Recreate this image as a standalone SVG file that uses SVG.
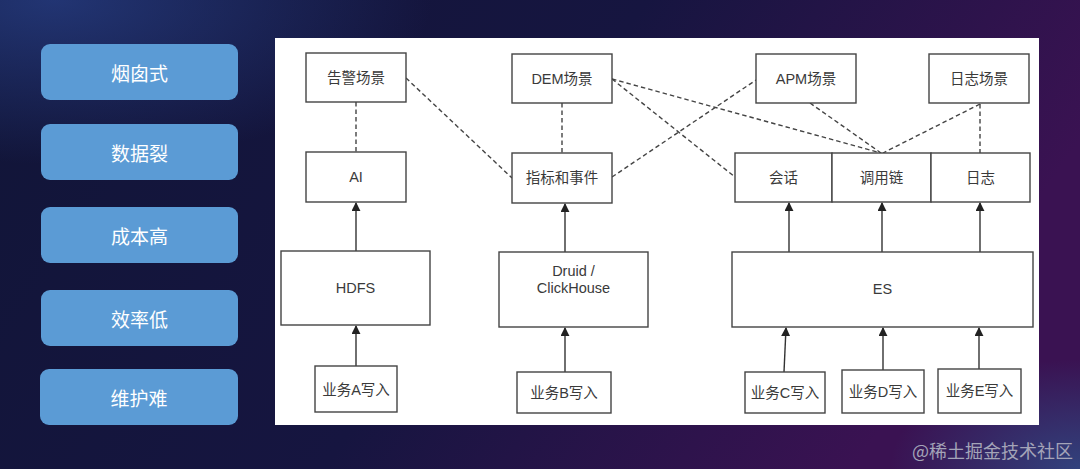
<svg xmlns="http://www.w3.org/2000/svg" width="1080" height="469" viewBox="0 0 1080 469">
<defs>
<linearGradient id="bg" x1="0" y1="0" x2="1" y2="0.3">
<stop offset="0" stop-color="#111538"/>
<stop offset="0.55" stop-color="#161540"/>
<stop offset="1" stop-color="#3a1252"/>
</linearGradient>
<radialGradient id="glow" cx="1" cy="1" r="0.5">
<stop offset="0" stop-color="#2a6aa0" stop-opacity="0.55"/>
<stop offset="1" stop-color="#2a6aa0" stop-opacity="0"/>
</radialGradient>
<radialGradient id="glowtl" cx="0.05" cy="0" r="0.35">
<stop offset="0" stop-color="#2d4a9a" stop-opacity="0.6"/>
<stop offset="1" stop-color="#2d4a9a" stop-opacity="0"/>
</radialGradient>
<marker id="arr" viewBox="0 0 10 10" refX="9" refY="5" markerWidth="9" markerHeight="9" markerUnits="userSpaceOnUse" orient="auto">
<path d="M0,0 L10,5 L0,10 z" fill="#222"/>
</marker>
<style>
.btn{fill:#5b9bd5}
.btxt{font-family:"Noto Sans CJK SC","Noto Sans",sans-serif;font-size:19px;fill:#ffffff;text-anchor:middle;dominant-baseline:central}
.box{fill:#ffffff;stroke:#444;stroke-width:1.4}
.t{font-family:"Liberation Sans","Noto Sans CJK SC",sans-serif;font-size:14.5px;fill:#3a3a3a;text-anchor:middle;dominant-baseline:central}
.dash{stroke:#444;stroke-width:1.4;stroke-dasharray:4.5 3;fill:none}
.solid{stroke:#333;stroke-width:1.4;fill:none;marker-end:url(#arr)}
.wm{font-family:"Noto Sans CJK SC",sans-serif;font-size:18px;fill:#a4a4b8}
</style>
</defs>
<rect width="1080" height="469" fill="url(#bg)"/>
<rect width="1080" height="469" fill="url(#glowtl)"/>
<rect x="700" y="250" width="380" height="219" fill="url(#glow)"/>

<g id="buttons">
<g id="b1"><rect class="btn" x="41" y="44" width="197" height="56" rx="9"/><text class="btxt" x="139.5" y="72">烟囱式</text></g>
<g id="b2"><rect class="btn" x="41" y="124" width="197" height="56" rx="9"/><text class="btxt" x="139.5" y="152">数据裂</text></g>
<g id="b3"><rect class="btn" x="41" y="207" width="197" height="56" rx="9"/><text class="btxt" x="139.5" y="235">成本高</text></g>
<g id="b4"><rect class="btn" x="41" y="290" width="197" height="56" rx="9"/><text class="btxt" x="139.5" y="318">效率低</text></g>
<g id="b5"><rect class="btn" x="40" y="369" width="198" height="56" rx="9"/><text class="btxt" x="139" y="397">维护难</text></g>
</g>

<rect id="panel" x="275" y="38" width="764" height="387" fill="#ffffff"/>

<g id="connectors">
<line class="dash" x1="356" y1="102" x2="356" y2="152"/>
<line class="dash" x1="406" y1="78" x2="512" y2="178"/>
<line class="dash" x1="562" y1="103" x2="562" y2="153"/>
<line class="dash" x1="612" y1="79" x2="735" y2="177"/>
<line class="dash" x1="612" y1="79" x2="881" y2="153"/>
<line class="dash" x1="612" y1="177" x2="756" y2="80"/>
<line class="dash" x1="810" y1="103" x2="881" y2="153"/>
<line class="dash" x1="980" y1="104" x2="883" y2="153"/>
<line class="dash" x1="980" y1="104" x2="980" y2="153"/>
<line class="solid" x1="356" y1="251" x2="356" y2="203"/>
<line class="solid" x1="356" y1="366" x2="356" y2="326"/>
<line class="solid" x1="565" y1="252" x2="565" y2="204"/>
<line class="solid" x1="565" y1="372" x2="565" y2="328"/>
<line class="solid" x1="789" y1="252" x2="789" y2="203"/>
<line class="solid" x1="882" y1="252" x2="882" y2="203"/>
<line class="solid" x1="980" y1="252" x2="980" y2="203"/>
<line class="solid" x1="784" y1="372" x2="786" y2="328"/>
<line class="solid" x1="883" y1="370" x2="883" y2="328"/>
<line class="solid" x1="979" y1="369" x2="979" y2="328"/>
</g>

<g id="n-alarm"><rect class="box" x="306" y="53" width="100" height="49"/><text class="t" x="356" y="78">告警场景</text></g>
<g id="n-ai"><rect class="box" x="306" y="152" width="100" height="50"/><text class="t" x="356" y="177">AI</text></g>
<g id="n-dem"><rect class="box" x="512" y="54" width="100" height="49"/><text class="t" x="562" y="79">DEM场景</text></g>
<g id="n-metric"><rect class="box" x="512" y="153" width="100" height="50"/><text class="t" x="562" y="178">指标和事件</text></g>
<g id="n-apm"><rect class="box" x="756" y="54" width="100" height="49"/><text class="t" x="806" y="79">APM场景</text></g>
<g id="n-logscene"><rect class="box" x="929" y="54" width="100" height="49"/><text class="t" x="979" y="79">日志场景</text></g>
<g id="n-session"><rect class="box" x="735" y="153" width="97" height="49"/><text class="t" x="783.5" y="178">会话</text></g>
<g id="n-trace"><rect class="box" x="832" y="153" width="99" height="49"/><text class="t" x="881.5" y="178">调用链</text></g>
<g id="n-log"><rect class="box" x="931" y="153" width="99" height="49"/><text class="t" x="980.5" y="178">日志</text></g>
<g id="n-hdfs"><rect class="box" x="281" y="251" width="149" height="74"/><text class="t" x="355.5" y="288">HDFS</text></g>
<g id="n-druid"><rect class="box" x="499" y="252" width="149" height="75"/><text class="t" x="573.5" y="271">Druid /</text><text class="t" x="573.5" y="288">ClickHouse</text></g>
<g id="n-es"><rect class="box" x="732" y="252" width="301" height="75"/><text class="t" x="882.5" y="289">ES</text></g>
<g id="n-wa"><rect class="box" x="315" y="366" width="82" height="46"/><text class="t" x="356" y="390">业务A写入</text></g>
<g id="n-wb"><rect class="box" x="517" y="372" width="94" height="41"/><text class="t" x="564" y="393">业务B写入</text></g>
<g id="n-wc"><rect class="box" x="745" y="372" width="80" height="41"/><text class="t" x="785" y="393">业务C写入</text></g>
<g id="n-wd"><rect class="box" x="842" y="370" width="82" height="43"/><text class="t" x="883" y="392">业务D写入</text></g>
<g id="n-we"><rect class="box" x="938" y="369" width="83" height="44"/><text class="t" x="979.5" y="391">业务E写入</text></g>

<text class="wm" x="912" y="458">@稀土掘金技术社区</text>
</svg>
